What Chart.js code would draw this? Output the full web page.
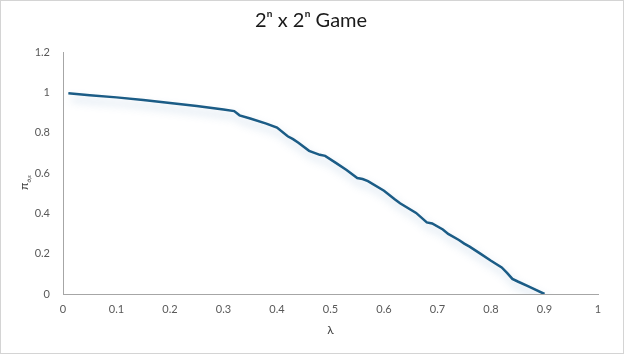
<!DOCTYPE html>
<html>
<head>
<meta charset="utf-8">
<script src="https://cdn.jsdelivr.net/npm/chart.js@4.4.0/dist/chart.umd.min.js"></script>
<style>
  html, body { margin: 0; padding: 0; background: #fff; }
  #wrap { width: 624px; height: 354px; position: relative; }
</style>
</head>
<body>
<div id="wrap"><canvas id="c" width="624" height="354"></canvas></div>
<script>
const titleText = "2\u207F x 2\u207F Game";
const xAxisTitle = "\u03BB";
const yAxisTitleMain = "\u03C0";
const yAxisTitleSub = "\u03C3\u0303,\u03B5";
const xTickValues = [0, 0.1, 0.2, 0.3, 0.4, 0.5, 0.6, 0.7, 0.8, 0.9, 1];
const yTickValues = [0, 0.2, 0.4, 0.6, 0.8, 1, 1.2];

const lambdaValues = [0.01, 0.05, 0.10, 0.15, 0.20, 0.25, 0.30, 0.32, 0.33, 0.35, 0.38, 0.40,
  0.42, 0.43, 0.44, 0.46, 0.48, 0.49, 0.51, 0.53, 0.55, 0.56, 0.57, 0.60, 0.62, 0.63,
  0.66, 0.68, 0.69, 0.71, 0.72, 0.74, 0.75, 0.76, 0.78, 0.80, 0.82, 0.83, 0.84, 0.85, 0.87, 0.90];
const piValues = [0.995, 0.985, 0.975, 0.962, 0.947, 0.932, 0.915, 0.907, 0.886, 0.870, 0.845, 0.825,
  0.782, 0.768, 0.750, 0.710, 0.690, 0.685, 0.650, 0.615, 0.575, 0.570, 0.560, 0.512, 0.470, 0.450,
  0.402, 0.355, 0.350, 0.320, 0.298, 0.268, 0.250, 0.235, 0.200, 0.165, 0.132, 0.105, 0.075, 0.062, 0.038, 0.0];

const points = lambdaValues.map((x, i) => ({ x: x, y: piValues[i] }));
const FONT = "Lato, 'Open Sans', sans-serif";

const decor = {
  id: 'decor',
  beforeDatasetsDraw(chart) {
    const ctx = chart.ctx;
    ctx.save();
    ctx.shadowColor = 'rgba(120,160,200,0.45)';
    ctx.shadowBlur = 8;
    ctx.shadowOffsetX = 3;
    ctx.shadowOffsetY = 6;
  },
  afterDatasetsDraw(chart) {
    chart.ctx.restore();
  },
  afterDraw(chart) {
    const ctx = chart.ctx;
    ctx.save();
    ctx.strokeStyle = '#d4d4d4';
    ctx.lineWidth = 1;
    ctx.strokeRect(0.5, 0.5, chart.width - 1, chart.height - 1);
    ctx.fillStyle = '#1a1a1a';
    ctx.font = "20px " + FONT;
    ctx.textAlign = 'center';
    ctx.textBaseline = 'alphabetic';
    ctx.fillText(titleText, 311, 27);
    ctx.translate(28, 182);
    ctx.rotate(-Math.PI / 2);
    ctx.fillStyle = '#404040';
    ctx.textAlign = 'left';
    ctx.font = "12px " + FONT;
    ctx.fillText(yAxisTitleMain, -8, 0);
    const w = ctx.measureText(yAxisTitleMain).width;
    ctx.font = "6px " + FONT;
    ctx.fillText(yAxisTitleSub, -8 + w, 3);
    ctx.restore();
  }
};

new Chart(document.getElementById('c'), {
  type: 'scatter',
  data: {
    datasets: [{
      data: points,
      showLine: true,
      borderColor: '#1b5c86',
      borderWidth: 2.5,
      pointRadius: 0,
      tension: 0,
      fill: false
    }]
  },
  options: {
    responsive: false,
    animation: false,
    devicePixelRatio: 1,
    layout: { padding: { left: 0, right: 26, top: 52, bottom: 13 } },
    plugins: {
      legend: { display: false },
      tooltip: { enabled: false },
      title: { display: false }
    },
    scales: {
      x: {
        type: 'linear',
        min: 0, max: 1,
        afterBuildTicks(scale) { scale.ticks = xTickValues.map(v => ({ value: v })); },
        afterFit(scale) { scale.height = 47; },
        grid: { display: false, drawTicks: false },
        border: { display: true, color: '#a6a6a6', width: 1 },
        ticks: {
          padding: 9,
          color: '#595959',
          font: { family: FONT, size: 11 },
          maxRotation: 0,
          callback: v => String(v)
        },
        title: {
          display: true,
          text: xAxisTitle,
          color: '#404040',
          font: { family: FONT, size: 12 },
          padding: { top: 6 }
        }
      },
      y: {
        type: 'linear',
        min: 0, max: 1.2,
        afterBuildTicks(scale) { scale.ticks = yTickValues.map(v => ({ value: v })); },
        afterFit(scale) { scale.width = 63; },
        grid: { display: false, drawTicks: false },
        border: { display: true, color: '#a6a6a6', width: 1 },
        ticks: {
          padding: 13,
          color: '#595959',
          font: { family: FONT, size: 11 },
          callback: v => String(v)
        }
      }
    }
  },
  plugins: [decor]
});
</script>
</body>
</html>
